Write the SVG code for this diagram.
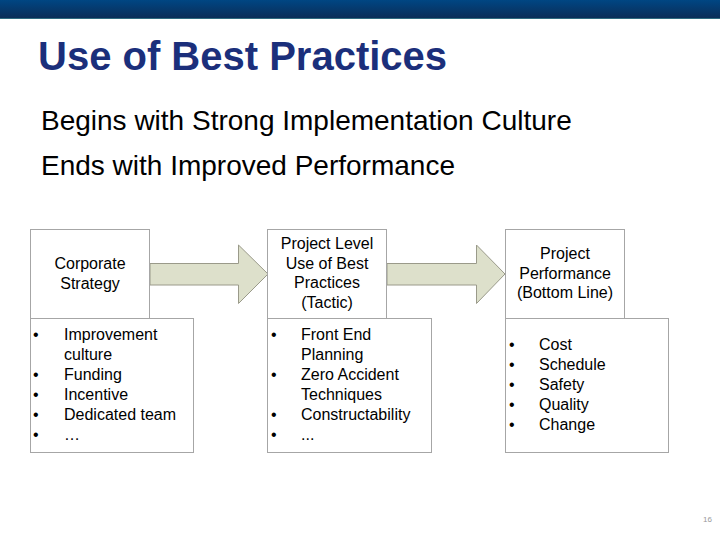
<svg xmlns="http://www.w3.org/2000/svg" width="720" height="540" viewBox="0 0 720 540">
<defs>
<linearGradient id="banner" x1="0" y1="0" x2="0" y2="1">
<stop offset="0" stop-color="#004683"/>
<stop offset="1" stop-color="#0b2d58"/>
</linearGradient>
<style>
.box{fill:#ffffff;stroke:#a6a6a6;stroke-width:1}
.arrow{fill:#dde0cb;stroke:#9a9a8a;stroke-width:1}
.t{font-family:"Liberation Sans",Arial,sans-serif;font-size:16px;fill:#000}
.c{text-anchor:middle}
.sub{font-family:"Liberation Sans",Arial,sans-serif;font-size:28px;fill:#000}
</style>
</defs>
<rect width="720" height="540" fill="#ffffff"/>
<rect x="0" y="0" width="720" height="18" fill="url(#banner)"/>
<rect x="0" y="18" width="720" height="1" fill="#2f6a80"/>
<text x="38" y="70" font-family="Liberation Sans,Arial,sans-serif" font-size="40" font-weight="bold" fill="#1b2f7b">Use of Best Practices</text>
<text class="sub" x="41" y="130">Begins with Strong Implementation Culture</text>
<text class="sub" x="41" y="175">Ends with Improved Performance</text>
<g id="connectors">
<polygon class="arrow" points="150,263.5 238.5,263.5 238.5,245 268,274 238.5,303.5 238.5,285 150,285"/>
<polygon class="arrow" points="387,263.5 476.5,263.5 476.5,245 505,274 476.5,303.5 476.5,285 387,285"/>
</g>
<g id="corporate-strategy">
<rect class="box" x="30.5" y="229.5" width="119" height="89"/>
<text class="t c" x="90" y="269">Corporate</text>
<text class="t c" x="90" y="289">Strategy</text>
</g>
<g id="corporate-list">
<rect class="box" x="30.5" y="318.5" width="163" height="134"/>
<text class="t" x="33" y="340">•</text><text class="t" x="64" y="340">Improvement</text>
<text class="t" x="64" y="360">culture</text>
<text class="t" x="33" y="380">•</text><text class="t" x="64" y="380">Funding</text>
<text class="t" x="33" y="400">•</text><text class="t" x="64" y="400">Incentive</text>
<text class="t" x="33" y="420">•</text><text class="t" x="64" y="420">Dedicated team</text>
<text class="t" x="33" y="440">•</text><text class="t" x="64" y="440">…</text>
</g>
<g id="project-level">
<rect class="box" x="267.5" y="229.5" width="119" height="89"/>
<text class="t c" x="327" y="249">Project Level</text>
<text class="t c" x="327" y="269">Use of Best</text>
<text class="t c" x="327" y="288">Practices</text>
<text class="t c" x="327" y="308">(Tactic)</text>
</g>
<g id="project-list">
<rect class="box" x="267.5" y="318.5" width="164" height="134"/>
<text class="t" x="271" y="340">•</text><text class="t" x="301" y="340">Front End</text>
<text class="t" x="301" y="360">Planning</text>
<text class="t" x="271" y="380">•</text><text class="t" x="301" y="380">Zero Accident</text>
<text class="t" x="301" y="400">Techniques</text>
<text class="t" x="271" y="420">•</text><text class="t" x="301" y="420">Constructability</text>
<text class="t" x="271" y="440">•</text><text class="t" x="301" y="440">...</text>
</g>
<g id="project-performance">
<rect class="box" x="505.5" y="229.5" width="119" height="89"/>
<text class="t c" x="565" y="259">Project</text>
<text class="t c" x="565" y="279">Performance</text>
<text class="t c" x="565" y="298">(Bottom Line)</text>
</g>
<g id="performance-list">
<rect class="box" x="505.5" y="318.5" width="163" height="134"/>
<text class="t" x="509" y="350">•</text><text class="t" x="539" y="350">Cost</text>
<text class="t" x="509" y="370">•</text><text class="t" x="539" y="370">Schedule</text>
<text class="t" x="509" y="390">•</text><text class="t" x="539" y="390">Safety</text>
<text class="t" x="509" y="410">•</text><text class="t" x="539" y="410">Quality</text>
<text class="t" x="509" y="430">•</text><text class="t" x="539" y="430">Change</text>
</g>
<text x="703" y="522" font-family="Liberation Sans,Arial,sans-serif" font-size="8" fill="#999999">16</text>
</svg>
